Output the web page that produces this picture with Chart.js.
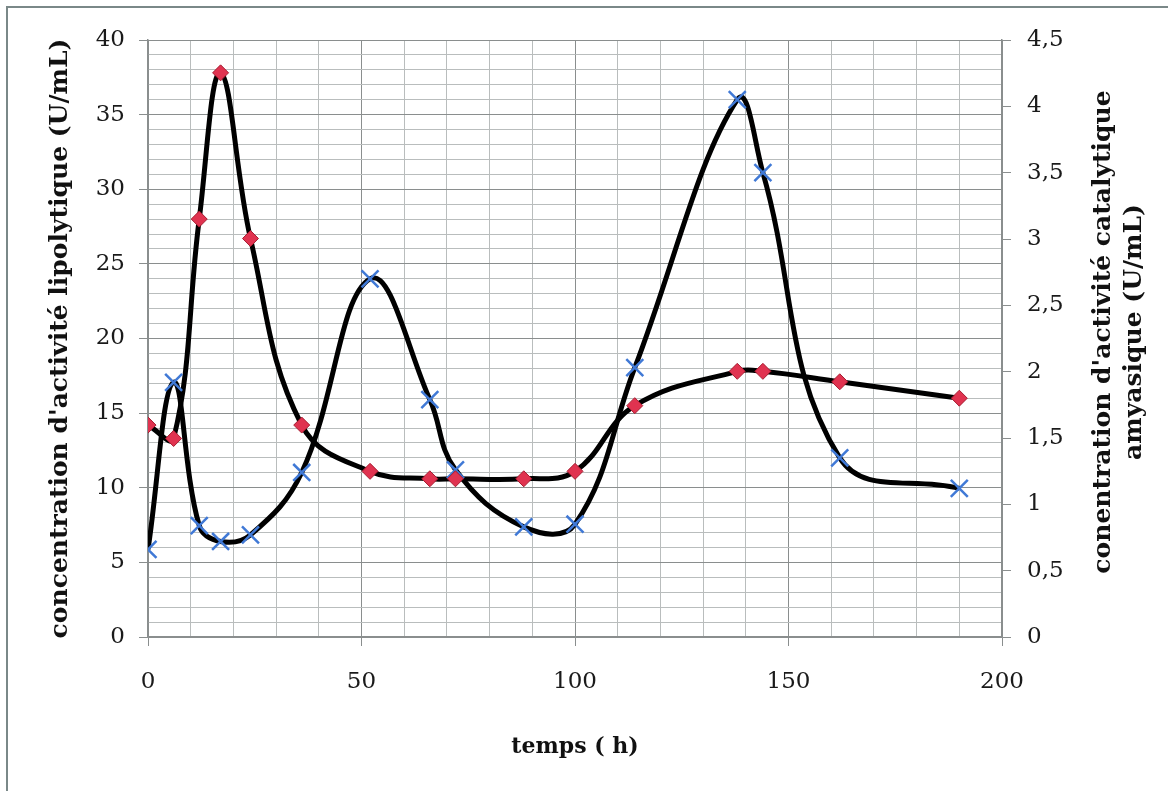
<!DOCTYPE html>
<html>
<head>
<meta charset="utf-8">
<script src="https://cdn.jsdelivr.net/npm/chart.js@4.4.1/dist/chart.umd.min.js"></script>
<style>
    html, body { margin: 0; padding: 0; background: #fff; }
    #wrap { position: relative; width: 1168px; height: 791px; overflow: hidden; }
    #frame {
        position: absolute; left: 6px; top: 6px; width: 1200px; height: 820px;
        border-left: 2px solid #7a8888; border-top: 2px solid #7a8888;
        pointer-events: none;
    }
    canvas { position: absolute; left: 0; top: 0; }
</style>
</head>
<body>
<div id="wrap">
    <canvas id="chart" width="1168" height="791"></canvas>
    <div id="frame"></div>
</div>
<script>
// sampling times (h)
const temps = [0, 6, 12, 17, 24, 36, 52, 66, 72, 88, 100, 114, 138, 144, 162, 190];
// lipolytic activity, left axis (U/mL)
const lipase = [14.2, 13.3, 28.0, 37.8, 26.7, 14.2, 11.1, 10.6, 10.6, 10.6, 11.1, 15.5, 17.8, 17.8, 17.1, 16.0];
// amylase activity, right axis (U/mL)
const amylase = [0.66, 1.92, 0.84, 0.72, 0.77, 1.24, 2.70, 1.79, 1.26, 0.83, 0.85, 2.03, 4.05, 3.50, 1.35, 1.12];

const xTickLabels = [0, 50, 100, 150, 200];
const yLeftLabels = [0, 5, 10, 15, 20, 25, 30, 35, 40];

const serif = "'DejaVu Serif', 'Liberation Serif', serif";
const minorGrid = '#b9bdbd';
const majorGrid = '#8a8e8e';

const toPoints = (vals) => temps.map((t, i) => ({ x: t, y: vals[i] }));

// right-hand axis title, two lines reading bottom to top
const rightTitle = {
    id: 'rightTitle',
    afterDraw(chart) {
        const ctx = chart.ctx;
        const cy = 332;
        ctx.save();
        ctx.fillStyle = '#111';
        ctx.font = `bold 25px ${serif}`;
        ctx.textAlign = 'center';
        ctx.textBaseline = 'middle';
        [["conentration d'activité catalytique", 1103], ['amyasique (U/mL)', 1134]].forEach(([txt, x]) => {
            ctx.save();
            ctx.translate(x, cy);
            ctx.rotate(-Math.PI / 2);
            ctx.fillText(txt, 0, 0);
            ctx.restore();
        });
        ctx.restore();
    }
};

const lineStyle = {
    borderColor: '#000',
    borderWidth: 5,
    tension: 0.4,
    pointRadius: 0,
    fill: false
};

new Chart(document.getElementById('chart'), {
    type: 'line',
    data: {
        datasets: [
            // markers drawn last so they sit on top of both curves
            {
                data: toPoints(lipase),
                yAxisID: 'y',
                showLine: false,
                pointStyle: 'rectRot',
                pointRadius: 8,
                pointBackgroundColor: '#e03350',
                pointBorderColor: '#a61c30',
                pointBorderWidth: 1,
                order: 0
            },
            {
                data: toPoints(amylase),
                yAxisID: 'y1',
                showLine: false,
                pointStyle: 'crossRot',
                pointRadius: 12,
                pointBorderColor: '#4079d6',
                pointBorderWidth: 2.5,
                order: 1
            },
            Object.assign({ data: toPoints(lipase), yAxisID: 'y', order: 2 }, lineStyle),
            Object.assign({ data: toPoints(amylase), yAxisID: 'y1', order: 3 }, lineStyle)
        ]
    },
    options: {
        responsive: false,
        animation: false,
        layout: { padding: { top: 40, left: 0, right: 0, bottom: 0 } },
        plugins: {
            legend: { display: false },
            tooltip: { enabled: false }
        },
        scales: {
            x: {
                type: 'linear',
                min: 0,
                max: 200,
                afterFit(scale) { scale.height = 154; },
                ticks: {
                    stepSize: 10,
                    autoSkip: false,
                    maxRotation: 0,
                    padding: 22,
                    color: '#1a1a1a',
                    font: { family: serif, size: 23 },
                    callback: (v) => xTickLabels.includes(v) ? String(v) : ''
                },
                grid: {
                    tickLength: 9,
                    color: (c) => c.tick && c.tick.value % 50 === 0 ? majorGrid : minorGrid,
                    tickColor: (c) => c.tick && c.tick.value % 50 === 0 ? majorGrid : 'transparent'
                },
                border: { color: majorGrid, width: 1.5 },
                title: {
                    display: true,
                    text: 'temps ( h)',
                    color: '#111',
                    font: { family: serif, size: 22, weight: 'bold' },
                    padding: { top: 0, bottom: 31 }
                }
            },
            y: {
                type: 'linear',
                position: 'left',
                min: 0,
                max: 40,
                afterFit(scale) { scale.width = 148; },
                ticks: {
                    stepSize: 1,
                    maxTicksLimit: 100,
                    autoSkip: false,
                    padding: 14,
                    color: '#1a1a1a',
                    font: { family: serif, size: 23 },
                    callback: (v) => yLeftLabels.includes(v) ? String(v) : ''
                },
                grid: {
                    tickLength: 9,
                    color: (c) => c.tick && c.tick.value % 5 === 0 ? majorGrid : minorGrid,
                    tickColor: (c) => c.tick && c.tick.value % 5 === 0 ? majorGrid : 'transparent'
                },
                border: { color: majorGrid, width: 1.5 },
                title: {
                    display: true,
                    text: "concentration d'activité lipolytique (U/mL)",
                    color: '#111',
                    font: { family: serif, size: 25, weight: 'bold' },
                    padding: { top: 45, bottom: 0 }
                }
            },
            y1: {
                type: 'linear',
                position: 'right',
                min: 0,
                max: 4.5,
                afterFit(scale) { scale.width = 166; },
                ticks: {
                    stepSize: 0.5,
                    autoSkip: false,
                    padding: 16,
                    color: '#1a1a1a',
                    font: { family: serif, size: 23 },
                    callback: (v) => String(v).replace('.', ',')
                },
                grid: {
                    drawOnChartArea: false,
                    tickLength: 9,
                    tickColor: majorGrid
                },
                border: { color: majorGrid, width: 1.5 }
            }
        }
    },
    plugins: [rightTitle]
});
</script>
</body>
</html>
